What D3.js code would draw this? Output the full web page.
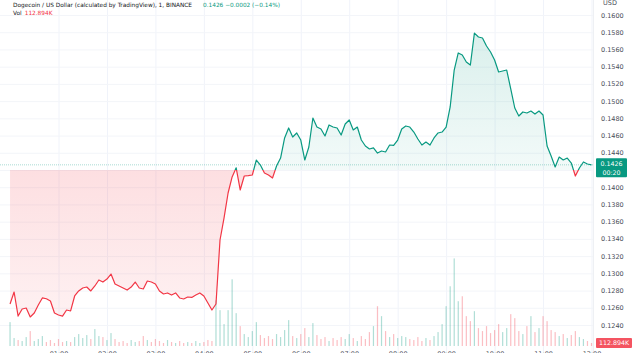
<!DOCTYPE html>
<html>
<head>
<meta charset="utf-8">
<script src="https://cdn.jsdelivr.net/npm/d3@7"></script>
<style>
body{margin:0;background:#fff;overflow:hidden;}
text{font-family:"DejaVu Sans",Roboto,sans-serif;}
</style>
</head>
<body>
<svg id="chart" width="640" height="353"></svg>
<script>
// DOGE/USD 1m, sampled every 5 minutes from 00:00
var stepMin = 5;
var prices = [
0.12644,0.12783,0.12504,0.12586,0.12597,0.12493,0.12539,0.12632,0.12714,0.12705,
0.12679,0.12539,0.12516,0.12504,0.12574,0.12563,0.12737,0.12795,0.12830,0.12841,
0.12795,0.12853,0.12923,0.12899,0.12934,0.12992,0.12876,0.12853,0.12830,0.12806,
0.12841,0.12899,0.12830,0.12818,0.12911,0.12899,0.12876,0.12795,0.12760,0.12772,
0.12748,0.12772,0.12714,0.12702,0.12725,0.12720,0.12748,0.12772,0.12737,0.12655,
0.12574,0.12644,0.13387,0.13643,0.13933,0.14119,0.14225,0.13968,0.14130,0.14135,
0.14142,0.14316,0.14258,0.14165,0.14142,0.14107,0.14246,0.14339,0.14572,0.14688,
0.14583,0.14630,0.14548,0.14316,0.14467,0.14804,0.14699,0.14676,0.14595,0.14723,
0.14699,0.14688,0.14606,0.14734,0.14781,0.14665,0.14699,0.14548,0.14479,0.14444,
0.14456,0.14397,0.14421,0.14409,0.14490,0.14485,0.14548,0.14676,0.14711,0.14699,
0.14641,0.14560,0.14490,0.14525,0.14490,0.14572,0.14630,0.14641,0.14699,0.14932,
0.15361,0.15559,0.15535,0.15454,0.15419,0.15790,0.15745,0.15733,0.15640,0.15570,
0.15477,0.15338,0.15350,0.15361,0.15141,0.14920,0.14827,0.14874,0.14862,0.14885,
0.14850,0.14885,0.14839,0.14479,0.14363,0.14235,0.14351,0.14316,0.14339,0.14281,
0.14130,0.14223,0.14293,0.14270,0.14260
];
// volume in thousands
var volumes = [
902,301,226,188,338,564,188,263,376,150,
226,113,263,150,188,150,338,451,301,414,
263,639,376,338,226,489,263,150,188,113,
226,150,188,376,226,150,263,188,113,226,
150,113,188,113,150,113,188,113,150,226,
188,1730,1354,827,1354,2519,1241,752,451,338,
564,902,414,301,376,263,451,338,602,978,
376,301,451,677,338,865,414,263,338,188,
301,226,338,263,451,301,188,376,263,526,
752,1504,1128,564,338,451,301,376,338,263,
226,338,188,301,226,376,526,827,1504,2256,
3309,1692,1880,1128,940,1316,677,564,752,489,
602,827,526,677,1203,1053,564,451,752,1128,
526,677,1128,940,602,526,376,451,301,414,
564,338,263,188,112.894
];
var hourLabels = ["01:00","02:00","03:00","04:00","05:00","06:00","07:00","08:00","09:00","10:00","11:00","12:00"];
var priceTicks = [0.1240,0.1260,0.1280,0.1300,0.1320,0.1340,0.1360,0.1380,0.1400,0.1420,0.1440,0.1460,0.1480,0.1500,0.1520,0.1540,0.1560,0.1580,0.1600];
var baseValue = 0.1420;
var lastPrice = 0.1426;

var up = "#089981", down = "#f23645";
var svg = d3.select("#chart");
var plotRight = 593, volBottom = 346;

var x = d3.scaleLinear().domain([60, 720]).range([58.5, 591.5]);
var y = d3.scaleLinear().domain([0.124, 0.16]).range([325, 15]);
var v = d3.scaleLinear().domain([0, 3400]).range([volBottom, volBottom - 90]);

var data = prices.map(function(p, i){
	return {t: i * stepMin, p: p, vol: volumes[i], prev: i > 0 ? prices[i-1] : p};
});
var hourMins = hourLabels.map(function(d, i){ return (i + 1) * 60; });

// grid
svg.append("g")
	.attr("transform", "translate(0,353)")
	.call(d3.axisBottom(x).tickValues(hourMins).tickSize(-353).tickFormat(""))
	.call(function(g){ g.select(".domain").remove(); g.selectAll("line").attr("stroke", "#f0f3fa"); });
svg.append("g")
	.call(d3.axisRight(y).tickValues(priceTicks).tickSize(plotRight).tickFormat(""))
	.call(function(g){ g.select(".domain").remove(); g.selectAll("line").attr("stroke", "#f3f5f9"); });

var defs = svg.append("defs");
var yb = y(baseValue);
defs.append("clipPath").attr("id", "above").append("rect").attr("x", 0).attr("y", 0).attr("width", plotRight).attr("height", yb);
defs.append("clipPath").attr("id", "below").append("rect").attr("x", 0).attr("y", yb).attr("width", plotRight).attr("height", 353 - yb);

var gUp = defs.append("linearGradient").attr("id", "gUp").attr("x1", 0).attr("x2", 0)
	.attr("gradientUnits", "userSpaceOnUse").attr("y1", y(0.158)).attr("y2", yb);
gUp.append("stop").attr("offset", 0).attr("stop-color", up).attr("stop-opacity", 0.15);
gUp.append("stop").attr("offset", 1).attr("stop-color", up).attr("stop-opacity", 0.05);
var gDn = defs.append("linearGradient").attr("id", "gDn").attr("x1", 0).attr("x2", 0)
	.attr("gradientUnits", "userSpaceOnUse").attr("y1", yb).attr("y2", y(0.125));
gDn.append("stop").attr("offset", 0).attr("stop-color", down).attr("stop-opacity", 0.16);
gDn.append("stop").attr("offset", 1).attr("stop-color", down).attr("stop-opacity", 0.07);

// volume
svg.append("g").selectAll("rect").data(data).enter().append("rect")
	.attr("x", function(d){ return x(d.t) - 0.6; })
	.attr("width", 1.2)
	.attr("y", function(d){ return v(d.vol); })
	.attr("height", function(d){ return volBottom - v(d.vol); })
	.attr("fill", function(d){ return d.p >= d.prev ? up : down; })
	.attr("fill-opacity", 0.32);

// baseline areas
var area = d3.area().x(function(d){ return x(d.t); }).y0(yb).y1(function(d){ return y(d.p); });
svg.append("path").datum(data).attr("d", area).attr("fill", "url(#gUp)").attr("clip-path", "url(#above)");
svg.append("path").datum(data).attr("d", area).attr("fill", "url(#gDn)").attr("clip-path", "url(#below)");

// last price line
svg.append("line").attr("x1", 0).attr("x2", plotRight).attr("y1", y(lastPrice)).attr("y2", y(lastPrice))
	.attr("stroke", up).attr("stroke-opacity", 0.35).attr("stroke-dasharray", "1,1");

var line = d3.line().x(function(d){ return x(d.t); }).y(function(d){ return y(d.p); });
svg.append("path").datum(data).attr("d", line).attr("fill", "none").attr("stroke", up)
	.attr("stroke-width", 1.2).attr("stroke-linejoin", "round").attr("clip-path", "url(#above)");
svg.append("path").datum(data).attr("d", line).attr("fill", "none").attr("stroke", down)
	.attr("stroke-width", 1.2).attr("stroke-linejoin", "round").attr("clip-path", "url(#below)");

// right price axis
var ly = y(lastPrice);
svg.append("rect").attr("x", plotRight).attr("y", 0).attr("width", 640 - plotRight).attr("height", 353).attr("fill", "#fff");
svg.append("line").attr("x1", plotRight + 0.5).attr("x2", plotRight + 0.5).attr("y1", 0).attr("y2", 353).attr("stroke", "#eef0f4");
var yAxis = svg.append("g").attr("transform", "translate(" + (plotRight + 8) + ",0)")
	.call(d3.axisRight(y).tickValues(priceTicks).tickSize(0).tickFormat(d3.format(".4f")));
yAxis.select(".domain").remove();
yAxis.selectAll("text").attr("x", 0).attr("font-size", 6.5).attr("fill", "#4a4e59").attr("font-family", "DejaVu Sans");
// tick hidden under the last price label
yAxis.selectAll(".tick").filter(function(d){ return Math.abs(y(d) - ly) < 10; }).remove();

svg.append("text").attr("x", 603).attr("y", 5).attr("font-size", 6.5).attr("fill", "#4a4e59").text("USD");

// last price label
svg.append("rect").attr("x", 596).attr("y", ly - 6.5).attr("width", 31).attr("height", 19).attr("rx", 1).attr("fill", up);
svg.append("text").attr("x", 611.5).attr("y", ly + 1.5).attr("text-anchor", "middle").attr("font-size", 6.3).attr("fill", "#fff").text(d3.format(".4f")(lastPrice));
svg.append("text").attr("x", 611.5).attr("y", ly + 10).attr("text-anchor", "middle").attr("font-size", 6.3).attr("fill", "#fff").text("00:20");

// volume label
var lastVol = volumes[volumes.length - 1];
svg.append("rect").attr("x", 596).attr("y", 338).attr("width", 36).attr("height", 10).attr("rx", 1).attr("fill", down).attr("fill-opacity", 0.85);
svg.append("text").attr("x", 614).attr("y", 345.3).attr("text-anchor", "middle").attr("font-size", 6.3).attr("fill", "#fff").text(d3.format(".3f")(lastVol) + "K");

// time axis
var xAxis = svg.append("g").attr("transform", "translate(0," + volBottom + ")")
	.call(d3.axisBottom(x).tickValues(hourMins).tickSize(0)
		.tickFormat(function(d, i){ return hourLabels[i]; }));
xAxis.select(".domain").remove();
xAxis.selectAll("text").attr("y", 5).attr("dy", "0.71em").attr("font-size", 6.5).attr("fill", "#4a4e59").attr("font-family", "DejaVu Sans");

// legend
svg.append("text").attr("x", 13).attr("y", 7).attr("font-size", 5.8).attr("fill", "#131722")
	.text("Dogecoin / US Dollar (calculated by TradingView), 1, BINANCE");
svg.append("text").attr("x", 203).attr("y", 7).attr("font-size", 5.8).attr("fill", up)
	.text("0.1426  \u22120.0002 (\u22120.14%)");
var vol = svg.append("text").attr("x", 13).attr("y", 15).attr("font-size", 5.8);
vol.append("tspan").attr("fill", "#131722").text("Vol");
vol.append("tspan").attr("dx", 3).attr("fill", down).text(d3.format(".3f")(lastVol) + "K");
</script>
</body>
</html>
